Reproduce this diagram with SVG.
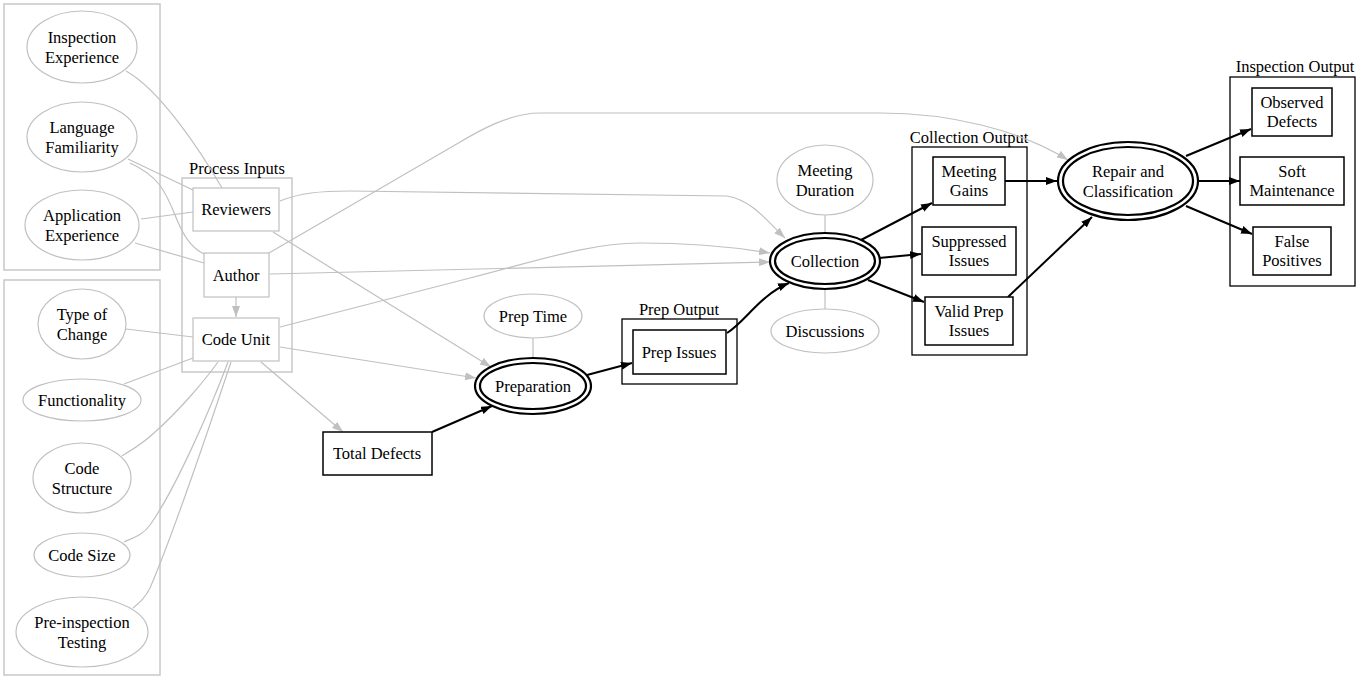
<svg xmlns="http://www.w3.org/2000/svg" width="1372" height="676" viewBox="0 0 1372 676">
<style>
text{font-family:'Liberation Serif','DejaVu Serif','Noto Serif',serif;font-size:16.5px;fill:#000;text-anchor:middle}
.g{fill:none;stroke:#c0c0c0;stroke-width:1.2}
.gn{fill:#fff;stroke:#c0c0c0;stroke-width:1.2}
.b{fill:none;stroke:#000;stroke-width:2}
.bn{fill:#fff;stroke:#000;stroke-width:1.5}
.dbl{fill:none;stroke:#000;stroke-width:2.2}
.cg{fill:none;stroke:#c8c8c8;stroke-width:1.5}
.cb{fill:none;stroke:#000;stroke-width:1.3}
</style>
<defs>
<marker id="ag" markerUnits="userSpaceOnUse" markerWidth="12" markerHeight="10" refX="11" refY="4" orient="auto"><path d="M0,0 L11,4 L0,8 z" fill="#c0c0c0"/></marker>
<marker id="ab" markerUnits="userSpaceOnUse" markerWidth="12" markerHeight="10" refX="11" refY="4" orient="auto"><path d="M0,0 L11,4 L0,8 z" fill="#000"/></marker>
</defs>
<rect width="1372" height="676" fill="#fff"/>
<g id="clusters" font-family="Liberation Serif, serif">
<rect class="cg" x="4" y="4" width="156" height="266"/>
<rect class="cg" x="4" y="280" width="156" height="395"/>
<rect class="cg" x="182" y="178" width="110" height="194"/>
<text x="237" y="174">Process Inputs</text>
<rect class="cb" x="622" y="319" width="115" height="65"/>
<text x="679" y="315">Prep Output</text>
<rect class="cb" x="912" y="147" width="115" height="208"/>
<text x="969" y="143">Collection Output</text>
<rect class="cb" x="1230" y="77" width="125" height="209"/>
<text x="1295" y="72">Inspection Output</text>
</g>
<g id="connectors">
<path class="g" d="M126,71 C160,90 200,150 222,188"/>
<path class="g" d="M128,159 L193,190"/>
<path class="g" d="M130,163 C158,176 165,190 175,215 C184,238 192,248 204,254"/>
<path class="g" d="M141,219 L193,212"/>
<path class="g" d="M135,243 L204,263"/>
<path class="g" d="M126,329 L193,337"/>
<path class="g" d="M124,384 L193,358"/>
<path class="g" d="M122,456 C135,448 145,442 155,432 C180,410 205,380 218,362"/>
<path class="g" d="M124,542 C135,537 143,535 150,525 C175,490 210,410 228,362"/>
<path class="g" d="M133,608 C140,602 145,598 150,588 C175,530 215,410 231,362"/>
<path class="g" d="M236,297 L236,317" marker-end="url(#ag)"/>
<path class="g" d="M280,201 C300,193 320,191 350,191 L727,196 C752,200 768,222 785,238" marker-end="url(#ag)"/>
<path class="g" d="M273,232 L491,367" marker-end="url(#ag)"/>
<path class="g" d="M269,253 L455,145 C480,130 510,113 540,113 L880,113 C950,113 1020,130 1068,160" marker-end="url(#ag)"/>
<path class="g" d="M270,274 L770,262" marker-end="url(#ag)"/>
<path class="g" d="M280,327 L470,278 C540,260 590,243 640,243 C700,243 740,248 770,253" marker-end="url(#ag)"/>
<path class="g" d="M280,347 L476,378" marker-end="url(#ag)"/>
<path class="g" d="M261,362 L343,432" marker-end="url(#ag)"/>
<path class="g" d="M533,338 L533,358"/>
<path class="g" d="M825,215 L825,232"/>
<path class="g" d="M825,289 L825,309"/>
<path class="b" d="M432,432 L492,406" marker-end="url(#ab)"/>
<path class="b" d="M587,375 L632,363" marker-end="url(#ab)"/>
<path class="b" d="M727,333 C745,322 760,295 789,283" marker-end="url(#ab)"/>
<path class="b" d="M861,240 L932,203" marker-end="url(#ab)"/>
<path class="b" d="M879,258 L921,254" marker-end="url(#ab)"/>
<path class="b" d="M868,280 L924,302" marker-end="url(#ab)"/>
<path class="b" d="M1005,181 L1057,181" marker-end="url(#ab)"/>
<path class="b" d="M1008,297 L1092,217" marker-end="url(#ab)"/>
<path class="b" d="M1186,156 L1251,129" marker-end="url(#ab)"/>
<path class="b" d="M1198,181 L1240,181" marker-end="url(#ab)"/>
<path class="b" d="M1186,206 L1252,234" marker-end="url(#ab)"/>
</g>
<g id="inspection-experience"><ellipse class="gn" cx="82" cy="47" rx="55" ry="36"/><text x="82" y="43">Inspection</text><text x="82" y="63">Experience</text></g>
<g id="language-familiarity"><ellipse class="gn" cx="82" cy="137" rx="55" ry="35"/><text x="82" y="133">Language</text><text x="82" y="153">Familiarity</text></g>
<g id="application-experience"><ellipse class="gn" cx="82" cy="225" rx="57" ry="35"/><text x="82" y="221">Application</text><text x="82" y="241">Experience</text></g>
<g id="type-of-change"><ellipse class="gn" cx="82" cy="324" rx="44" ry="35"/><text x="82" y="320">Type of</text><text x="82" y="340">Change</text></g>
<g id="functionality"><ellipse class="gn" cx="82" cy="400" rx="59" ry="21"/><text x="82" y="406">Functionality</text></g>
<g id="code-structure"><ellipse class="gn" cx="82" cy="478" rx="49" ry="35"/><text x="82" y="474">Code</text><text x="82" y="494">Structure</text></g>
<g id="code-size"><ellipse class="gn" cx="82" cy="555" rx="48" ry="22"/><text x="82" y="561">Code Size</text></g>
<g id="pre-inspection-testing"><ellipse class="gn" cx="82" cy="632" rx="66" ry="35"/><text x="82" y="628">Pre-inspection</text><text x="82" y="648">Testing</text></g>
<g id="reviewers"><rect class="gn" x="193" y="188" width="86" height="43"/><text x="236" y="215">Reviewers</text></g>
<g id="author"><rect class="gn" x="204" y="253" width="65" height="44"/><text x="236" y="281">Author</text></g>
<g id="code-unit"><rect class="gn" x="193" y="318" width="86" height="43"/><text x="236" y="345">Code Unit</text></g>
<g id="total-defects"><rect class="bn" x="323" y="432" width="109" height="43"/><text x="377" y="459">Total Defects</text></g>
<g id="prep-time"><ellipse class="gn" cx="533" cy="316" rx="49" ry="22"/><text x="533" y="322">Prep Time</text></g>
<g id="preparation"><ellipse class="dbl" cx="533" cy="386" rx="58" ry="28"/><ellipse class="dbl" cx="533" cy="386" rx="53" ry="23"/><text x="533" y="392">Preparation</text></g>
<g id="prep-issues"><rect class="bn" x="633" y="330" width="93" height="44"/><text x="679" y="358">Prep Issues</text></g>
<g id="meeting-duration"><ellipse class="gn" cx="825" cy="180" rx="48" ry="35"/><text x="825" y="176">Meeting</text><text x="825" y="196">Duration</text></g>
<g id="collection"><ellipse class="dbl" cx="825" cy="261" rx="55" ry="28"/><ellipse class="dbl" cx="825" cy="261" rx="50" ry="23"/><text x="825" y="267">Collection</text></g>
<g id="discussions"><ellipse class="gn" cx="825" cy="331" rx="54" ry="22"/><text x="825" y="337">Discussions</text></g>
<g id="meeting-gains"><rect class="bn" x="933" y="157" width="72" height="48"/><text x="969" y="177">Meeting</text><text x="969" y="196">Gains</text></g>
<g id="suppressed-issues"><rect class="bn" x="922" y="227" width="94" height="48"/><text x="969" y="247">Suppressed</text><text x="969" y="266">Issues</text></g>
<g id="valid-prep-issues"><rect class="bn" x="925" y="297" width="88" height="48"/><text x="969" y="317">Valid Prep</text><text x="969" y="336">Issues</text></g>
<g id="repair-and-classification"><ellipse class="dbl" cx="1128" cy="181" rx="70" ry="39"/><ellipse class="dbl" cx="1128" cy="181" rx="65" ry="34"/><text x="1128" y="177">Repair and</text><text x="1128" y="197">Classification</text></g>
<g id="observed-defects"><rect class="bn" x="1252" y="88" width="80" height="48"/><text x="1292" y="108">Observed</text><text x="1292" y="127">Defects</text></g>
<g id="soft-maintenance"><rect class="bn" x="1240" y="157" width="104" height="48"/><text x="1292" y="177">Soft</text><text x="1292" y="196">Maintenance</text></g>
<g id="false-positives"><rect class="bn" x="1253" y="227" width="78" height="48"/><text x="1292" y="247">False</text><text x="1292" y="266">Positives</text></g>
</svg>
